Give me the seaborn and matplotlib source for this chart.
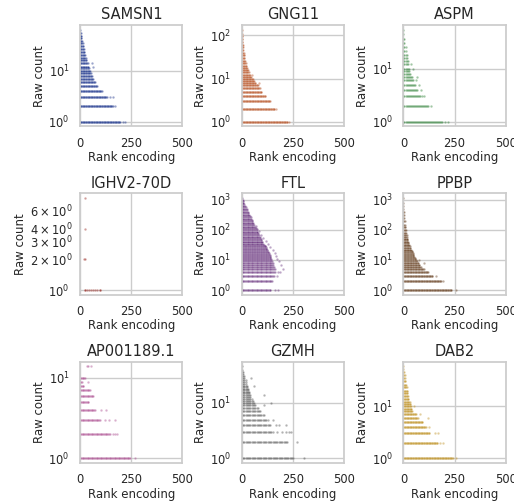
import numpy as np
import pandas as pd
import matplotlib
matplotlib.use("Agg")
import matplotlib.pyplot as plt
import seaborn as sns

genes = ["SAMSN1", "GNG11", "ASPM", "IGHV2-70D", "FTL", "PPBP",
         "AP001189.1", "GZMH", "DAB2"]

# Per gene: raw-count levels, the rank reached by the run of cells at each
# level, spacing between cells along a run, and isolated cells (rank, count).
samsn1_levels = [1, 2, 3, 4, 5, 6, 7, 8, 9, 10, 11, 12, 14, 16, 18, 20, 23, 26,
                 30, 34, 38, 43, 48, 55, 63]
samsn1_reach = [196, 160, 130, 106, 82, 73, 65, 58, 52, 48, 44, 40, 36, 32, 28,
                25, 22, 18, 15, 12, 10, 8, 6, 4, 2]
samsn1_extra_rank = [220, 210, 172, 160, 145, 65, 58]
samsn1_extra_count = [1, 1, 2, 3, 3, 12, 14]

gng11_levels = [1, 2, 3, 4, 5, 6, 7, 8, 9, 10, 11, 12, 14, 16, 18, 20, 23, 26,
                30, 35, 40, 46, 53, 60, 70, 80, 95, 110, 135]
gng11_reach = [222, 160, 140, 115, 98, 88, 78, 68, 60, 52, 46, 40, 35, 30, 26,
               22, 19, 16, 14, 12, 10, 8, 7, 6, 5, 4, 3, 2, 1]
gng11_extra_rank = [232, 167, 85, 57, 48]
gng11_extra_count = [1, 2, 8, 10, 12]

aspm_levels = [1, 2, 3, 4, 5, 6, 7, 8, 9, 10, 12, 14, 16, 18, 21, 25, 30, 36,
               45, 54]
aspm_reach = [190, 120, 80, 65, 55, 45, 40, 30, 28, 25, 22, 20, 18, 15, 12, 10,
              8, 5, 3, 1]
aspm_extra_rank = [216, 205, 134, 101, 92, 85, 78, 61, 68, 45, 36]
aspm_extra_count = [1, 1, 2, 3, 3, 4, 5, 6, 7, 10, 12]

ighv_levels = []
ighv_reach = []
ighv_extra_rank = [22, 25, 35, 45, 55, 62, 70, 80, 95, 98, 17, 22, 24, 25]
ighv_extra_count = [1, 1, 1, 1, 1, 1, 1, 1, 1, 1, 2, 2, 4, 8]

ftl_levels = [1, 2, 3, 4, 5, 6, 7, 8, 9, 10, 11, 12, 13, 14, 15, 16, 17, 18,
              19, 20, 21, 22, 23, 24, 25, 26, 27, 28, 29, 30, 32, 35, 38, 41,
              45, 50, 55, 60, 66, 72, 80, 88, 96, 105, 115, 125, 140, 155,
              170, 190, 210, 235, 260, 290, 320, 360, 400, 450, 500, 560,
              630, 700, 800, 900, 1000, 1150]
ftl_reach = [142, 150, 158, 160, 160, 158, 155, 152, 150, 146, 144, 142, 140,
             138, 136, 134, 132, 130, 128, 126, 125, 124, 122, 120, 118, 116,
             115, 114, 113, 112, 110, 106, 103, 100, 96, 92, 90, 88, 85, 82,
             80, 78, 75, 72, 69, 66, 62, 59, 56, 53, 50, 47, 44, 41, 38, 34,
             30, 27, 24, 21, 18, 15, 11, 8, 5, 1]
ftl_extra_rank = [160, 175, 170, 178, 185, 200, 190, 180, 172, 165, 160, 150,
                  140, 128, 118, 105, 95, 85, 70]
ftl_extra_count = [1, 1, 3, 4, 4, 5, 7, 9, 11, 14, 17, 21, 26, 33, 42, 55,
                   70, 90, 130]

ppbp_levels = [1, 2, 3, 4, 5, 6, 7, 8, 9, 10, 11, 12, 13, 14, 15, 16, 17, 18,
               19, 20, 22, 25, 28, 32, 36, 40, 45, 50, 60, 70, 80, 100, 120,
               150, 200, 250, 300, 400, 500, 600, 800]
ppbp_reach = [235, 184, 142, 121, 101, 85, 78, 72, 66, 62, 58, 55, 52, 50, 48,
              46, 45, 44, 43, 42, 38, 34, 30, 27, 25, 22, 20, 18, 16, 15, 14,
              12, 10, 8, 6, 5, 4, 3, 2, 1, 0]
ppbp_extra_rank = [258, 195, 160, 100, 77, 0]
ppbp_extra_count = [1, 2, 3, 8, 10, 1150]

ap_levels = [1, 2, 3, 4, 5, 6, 7, 8, 9, 10]
ap_reach = [245, 147, 98, 75, 41, 65, 49, 16, 8, 25]
ap_extra_rank = [270, 160, 170, 180, 120, 140, 172, 100, 128, 36, 33, 40, 52]
ap_extra_count = [1, 2, 2, 2, 3, 3, 3, 4, 4, 9, 14, 14, 14]

gzmh_levels = [1, 2, 3, 4, 5, 6, 7, 8, 9, 10, 11, 12, 13, 14, 15, 16, 17, 18,
               19, 20, 22, 24, 26, 28, 30, 33, 36, 40, 46]
gzmh_reach = [256, 224, 150, 142, 126, 110, 93, 80, 69, 60, 55, 50, 46, 42, 40,
              36, 33, 30, 28, 26, 22, 20, 18, 15, 13, 10, 8, 5, 3]
gzmh_extra_rank = [305, 272, 170, 195, 215, 230, 240, 165, 180, 215, 150, 110,
                   142, 110, 44, 60]
gzmh_extra_count = [1, 2, 3, 3, 3, 3, 3, 4, 4, 4, 5, 9, 10, 14, 28, 20]

dab2_levels = [1, 2, 3, 4, 5, 6, 7, 8, 9, 10, 11, 12, 14, 16, 18, 20, 23, 26,
               30, 35, 40, 46, 52, 59]
dab2_reach = [240, 167, 126, 109, 93, 69, 60, 44, 40, 36, 33, 30, 26, 22, 20,
              18, 15, 12, 10, 8, 6, 4, 2, 1]
dab2_extra_rank = [256, 191, 180, 167, 155, 126, 118, 80, 52]
dab2_extra_count = [1, 2, 2, 3, 3, 4, 6, 7, 10]

spacing = [3, 3, 5, 4, 4, 3, 4, 6, 3]

gene_data = {
    "SAMSN1": (samsn1_levels, samsn1_reach, samsn1_extra_rank, samsn1_extra_count),
    "GNG11": (gng11_levels, gng11_reach, gng11_extra_rank, gng11_extra_count),
    "ASPM": (aspm_levels, aspm_reach, aspm_extra_rank, aspm_extra_count),
    "IGHV2-70D": (ighv_levels, ighv_reach, ighv_extra_rank, ighv_extra_count),
    "FTL": (ftl_levels, ftl_reach, ftl_extra_rank, ftl_extra_count),
    "PPBP": (ppbp_levels, ppbp_reach, ppbp_extra_rank, ppbp_extra_count),
    "AP001189.1": (ap_levels, ap_reach, ap_extra_rank, ap_extra_count),
    "GZMH": (gzmh_levels, gzmh_reach, gzmh_extra_rank, gzmh_extra_count),
    "DAB2": (dab2_levels, dab2_reach, dab2_extra_rank, dab2_extra_count),
}

rows = []
for gene, step in zip(genes, spacing):
    levels, reach, ex_r, ex_c = gene_data[gene]
    for lvl, r in zip(levels, reach):
        for x in np.arange(0, r + 0.5, step):
            rows.append((gene, float(x), lvl))
    for x, c in zip(ex_r, ex_c):
        rows.append((gene, float(x), c))
df = pd.DataFrame(rows, columns=["gene", "rank", "count"])

sns.set_theme(style="whitegrid")
palette = sns.color_palette("dark", 9)

fig, axes = plt.subplots(3, 3, figsize=(5.14, 5.01), dpi=100)
fig.subplots_adjust(left=0.156, right=0.984, top=0.950, bottom=0.076,
                    wspace=0.58, hspace=0.66)

for ax, gene, color in zip(axes.flat, genes, palette):
    sub = df[df["gene"] == gene]
    sns.scatterplot(data=sub, x="rank", y="count", color=color, s=3,
                    alpha=0.4, linewidth=0.2, edgecolor="white", ax=ax)
    ax.set_yscale("log")
    ax.set_xlim(0, 500)
    ax.set_xticks([0, 250, 500])
    ax.set_title(gene, fontsize=10.5, pad=4)
    ax.set_xlabel("Rank encoding", fontsize=8.5, labelpad=1)
    ax.set_ylabel("Raw count", fontsize=8.5, labelpad=2)
    ax.tick_params(axis="both", which="both", labelsize=8.3, pad=1.5)

fig.savefig("out.png", dpi=100)
